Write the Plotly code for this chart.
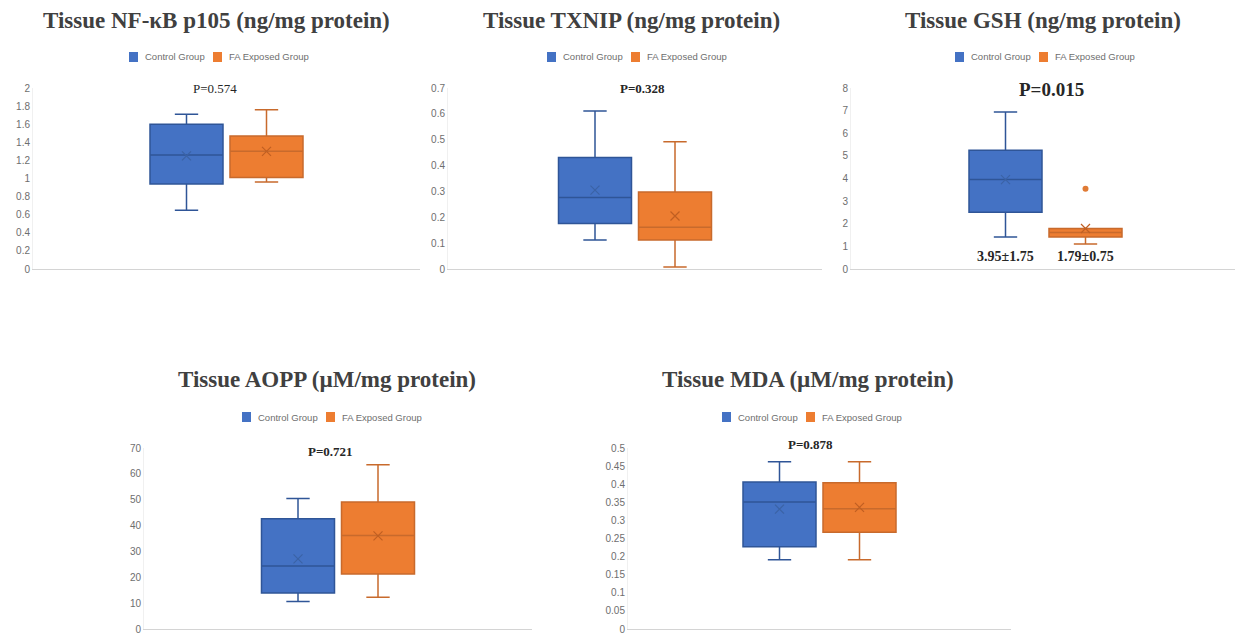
import plotly.graph_objects as go

W, H = 1243, 640
OFF = 8  # page body margin of the html page

groups = ["Control Group", "FA Exposed Group"]

# NF-kB p105
nfkb_low = [0.65, 0.96]
nfkb_q1 = [0.94, 1.01]
nfkb_median = [1.26, 1.30]
nfkb_q3 = [1.60, 1.47]
nfkb_high = [1.71, 1.76]
nfkb_mean = [1.25, 1.30]

# TXNIP
txnip_low = [0.112, 0.008]
txnip_q1 = [0.176, 0.112]
txnip_median = [0.277, 0.161]
txnip_q3 = [0.431, 0.298]
txnip_high = [0.611, 0.492]
txnip_mean = [0.305, 0.205]

# GSH
gsh_low = [1.41, 1.11]
gsh_q1 = [2.51, 1.41]
gsh_median = [3.96, 1.61]
gsh_q3 = [5.25, 1.79]
gsh_high = [6.94, 1.79]
gsh_mean = [3.95, 1.79]
gsh_outliers = [[], [3.55]]
gsh_labels = ["3.95±1.75", "1.79±0.75"]

# AOPP
aopp_low = [10.6, 12.3]
aopp_q1 = [13.9, 21.3]
aopp_median = [24.4, 36.2]
aopp_q3 = [42.6, 49.1]
aopp_high = [50.5, 63.5]
aopp_mean = [27.1, 36.0]

# MDA
mda_low = [0.191, 0.191]
mda_q1 = [0.227, 0.267]
mda_median = [0.351, 0.332]
mda_q3 = [0.406, 0.404]
mda_high = [0.462, 0.462]
mda_mean = [0.331, 0.336]

titles = [
    "Tissue NF-κB p105 (ng/mg protein)",
    "Tissue TXNIP (ng/mg protein)",
    "Tissue GSH (ng/mg protein)",
    "Tissue AOPP (µM/mg protein)",
    "Tissue MDA (µM/mg protein)",
]
p_values = ["P=0.574", "P=0.328", "P=0.015", "P=0.721", "P=0.878"]
y_max = [2, 0.7, 8, 70, 0.5]
y_dtick = [0.2, 0.1, 1, 10, 0.05]

panels = [
    dict(low=nfkb_low, q1=nfkb_q1, med=nfkb_median, q3=nfkb_q3, high=nfkb_high, mean=nfkb_mean),
    dict(low=txnip_low, q1=txnip_q1, med=txnip_median, q3=txnip_q3, high=txnip_high, mean=txnip_mean),
    dict(low=gsh_low, q1=gsh_q1, med=gsh_median, q3=gsh_q3, high=gsh_high, mean=gsh_mean),
    dict(low=aopp_low, q1=aopp_q1, med=aopp_median, q3=aopp_q3, high=aopp_high, mean=aopp_mean),
    dict(low=mda_low, q1=mda_q1, med=mda_median, q3=mda_q3, high=mda_high, mean=mda_mean),
]

# layout (target pixels)
boxes_px = [
    dict(x0=33, x1=420, yt=88, yb=269, tx=216, ty=20, lx=217, ly=57, px=215, py=88, ps=13, pb=False),
    dict(x0=448, x1=822, yt=88, yb=269, tx=631, ty=20, lx=635, ly=57, px=642, py=88, ps=13, pb=True),
    dict(x0=851, x1=1240, yt=88, yb=269, tx=1043, ty=20, lx=1043, ly=57, px=1051, py=89, ps=19, pb=True),
    dict(x0=144, x1=532, yt=448, yb=629, tx=327, ty=379, lx=330, ly=417, px=330, py=451, ps=13, pb=True),
    dict(x0=628, x1=1011, yt=448, yb=629, tx=808, ty=379, lx=810, ly=417, px=810, py=444, ps=13, pb=True),
]


def fx(p):
    return (p - OFF) / W


def fy(p):
    return 1 - (p - OFF) / H


fill = ["#4472C4", "#ED7D31"]
edge = ["#2F5597", "#C86A2C"]
meanc = ["#3B63A6", "#C05F22"]

fig = go.Figure()
layout = dict(
    width=W, height=H, margin=dict(l=0, r=0, t=0, b=0, autoexpand=False),
    paper_bgcolor="white", plot_bgcolor="white", showlegend=False,
    annotations=[], shapes=[],
)

serif = "Liberation Serif, Times New Roman, serif"
sans = "Liberation Sans, Arial, sans-serif"

# legend element offsets from legend centre (px)
leg_sq = [(-88, -79), (-4, 5)]
leg_tx = [-74, 10]

for i, (d, b) in enumerate(zip(panels, boxes_px)):
    s = "" if i == 0 else str(i + 1)
    xa, ya = "x" + s, "y" + s
    wpx = b["x1"] - b["x0"]
    bw = 73.0 / wpx
    off = 40.0 / wpx
    pos = [-off, off]
    for g in range(2):
        fig.add_trace(go.Box(
            x=[pos[g]], q1=[d["q1"][g]], median=[d["med"][g]], q3=[d["q3"][g]],
            lowerfence=[d["low"][g]], upperfence=[d["high"][g]],
            width=bw, whiskerwidth=0.32, boxpoints=False,
            fillcolor=fill[g], line=dict(color=edge[g], width=1.5),
            name=groups[g], xaxis=xa, yaxis=ya, hoverinfo="skip",
        ))
        fig.add_trace(go.Scatter(
            x=[pos[g]], y=[d["mean"][g]], mode="markers",
            marker=dict(symbol="x-thin", size=9, line=dict(color=meanc[g], width=1.2)),
            xaxis=xa, yaxis=ya, hoverinfo="skip",
        ))
        if i == 2 and gsh_outliers[g]:
            fig.add_trace(go.Scatter(
                x=[pos[g]] * len(gsh_outliers[g]), y=gsh_outliers[g], mode="markers",
                marker=dict(symbol="circle", size=6, color="#E07B35"),
                xaxis=xa, yaxis=ya, hoverinfo="skip",
            ))
        if i == 2:
            layout["annotations"].append(dict(
                x=pos[g], y=0.55, xref=xa, yref=ya, text="<b>%s</b>" % gsh_labels[g],
                showarrow=False, font=dict(family=serif, size=14, color="#262626"),
                xanchor="center", yanchor="middle"))
        # legend entry (swatch + label)
        layout["shapes"].append(dict(
            type="rect", xref="paper", yref="paper",
            x0=fx(b["lx"] + leg_sq[g][0]), x1=fx(b["lx"] + leg_sq[g][1]),
            y0=fy(b["ly"] + 5), y1=fy(b["ly"] - 5),
            fillcolor=fill[g], line=dict(width=0)))
        layout["annotations"].append(dict(
            x=fx(b["lx"] + leg_tx[g]), y=fy(b["ly"]), xref="paper", yref="paper",
            text=groups[g], showarrow=False, xanchor="left", yanchor="middle",
            font=dict(family=sans, size=9.5, color="#6E6E6E")))

    layout["xaxis" + s] = dict(
        domain=[fx(b["x0"]), fx(b["x1"])], range=[-0.5, 0.5],
        showticklabels=False, showgrid=False, zeroline=False,
        showline=True, linecolor="#D4D4D4", linewidth=1, anchor=ya, fixedrange=True,
    )
    layout["yaxis" + s] = dict(
        domain=[fy(b["yb"]), fy(b["yt"])], range=[0, y_max[i]],
        dtick=y_dtick[i], tick0=0, showgrid=False, zeroline=False,
        showline=True, linecolor="#F0F0F0", linewidth=1, anchor=xa,
        tickfont=dict(family=sans, size=10, color="#6E6E6E"), ticks="", ticklen=0,
        fixedrange=True, automargin=False,
    )
    layout["annotations"].append(dict(
        x=fx(b["tx"]), y=fy(b["ty"]), xref="paper", yref="paper",
        text="<b>%s</b>" % titles[i], showarrow=False,
        font=dict(family=serif, size=23, color="#404040"),
        xanchor="center", yanchor="middle", borderpad=0))
    ptxt = "<b>%s</b>" % p_values[i] if b["pb"] else p_values[i]
    layout["annotations"].append(dict(
        x=fx(b["px"]), y=fy(b["py"]), xref="paper", yref="paper",
        text=ptxt, showarrow=False,
        font=dict(family=serif, size=b["ps"], color="#262626"),
        xanchor="center", yanchor="middle"))

fig.update_layout(**layout)
fig.write_html("out.html")
